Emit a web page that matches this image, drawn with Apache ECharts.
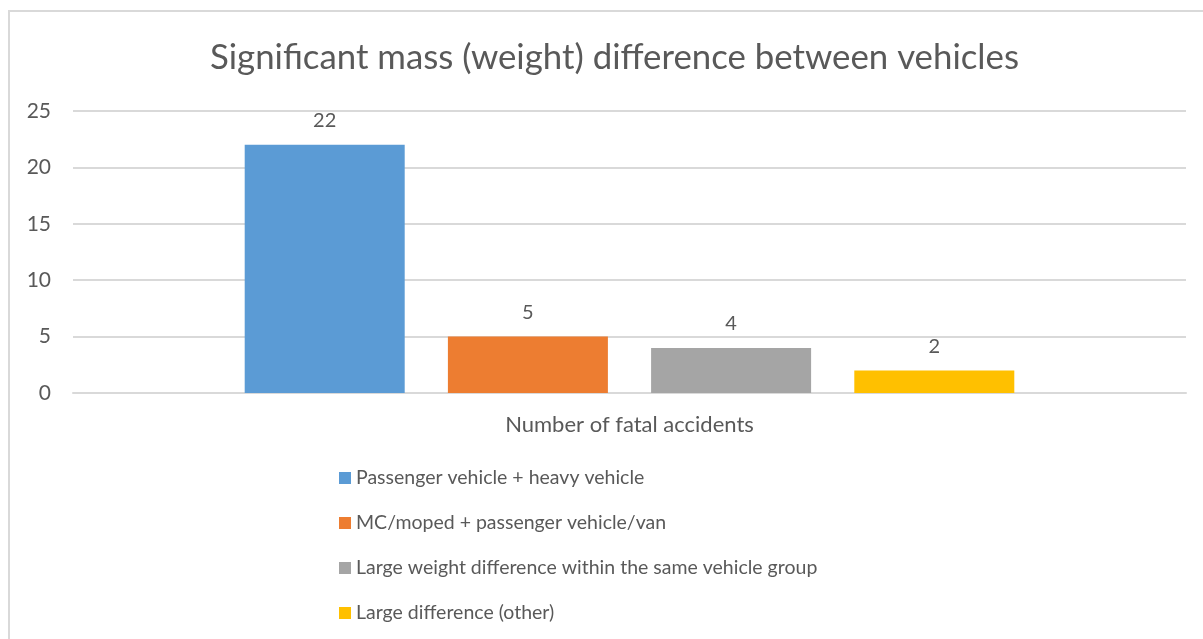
<!DOCTYPE html>
<html>
<head>
<meta charset="utf-8">
<script src="https://cdn.jsdelivr.net/npm/echarts@6/dist/echarts.min.js"></script>
<style>
  html, body { margin: 0; padding: 0; background: #fff; }
  #frame { position: absolute; left: 8px; top: 10px; width: 1200px; height: 640px; border-left: 2px solid #d9d9d9; border-top: 2px solid #d9d9d9; box-sizing: border-box; }
  #chart { position: absolute; left: 0; top: 0; width: 1203px; height: 639px; }
</style>
</head>
<body>
<div id="frame"></div>
<div id="chart"></div>
<script>
// 類別與數據
const categories = ['Number of fatal accidents']
const seriesNames = [
  'Passenger vehicle + heavy vehicle',
  'MC/moped + passenger vehicle/van',
  'Large weight difference within the same vehicle group',
  'Large difference (other)'
]
const seriesValues = [[22], [5], [4], [2]]
const seriesColors = ['#5B9BD5', '#ED7D31', '#A5A5A5', '#FFC000']
const yTicks = [0, 5, 10, 15, 20, 25]

const FONT = 'Lato'
const TEXT = '#595959'

const chart = echarts.init(document.getElementById('chart'))

const series = seriesNames.map((name, i) => ({
  name,
  type: 'bar',
  data: seriesValues[i],
  barWidth: 160,
  barGap: '27%',
  itemStyle: { color: seriesColors[i] },
  label: {
    show: true,
    position: 'top',
    distance: 14,
    color: TEXT,
    fontFamily: FONT,
    fontSize: 20
  }
}))

chart.setOption({
  animation: false,
  title: {
    text: 'Significant mass (weight) difference between vehicles',
    left: 205,
    top: 35,
    textStyle: { color: TEXT, fontFamily: FONT, fontSize: 34.8, fontWeight: 'normal' }
  },
  legend: {
    orient: 'vertical',
    left: 334,
    top: 463,
    itemWidth: 12,
    itemHeight: 12,
    itemGap: 25,
    icon: 'rect',
    data: seriesNames,
    textStyle: { color: TEXT, fontFamily: FONT, fontSize: 19.5, lineHeight: 20 }
  },
  grid: { left: 73, right: 17, top: 111, height: 282, containLabel: false },
  xAxis: {
    type: 'category',
    data: categories,
    axisLine: { lineStyle: { color: '#d9d9d9', width: 2 } },
    axisTick: { show: false },
    axisLabel: { color: TEXT, fontFamily: FONT, fontSize: 22, margin: 21 }
  },
  yAxis: {
    type: 'value',
    min: 0,
    max: 25,
    interval: 5,
    axisLine: { show: false },
    axisTick: { show: false },
    splitLine: { lineStyle: { color: '#d9d9d9', width: 2 } },
    axisLabel: {
      color: TEXT, fontFamily: FONT, fontSize: 21, margin: 22,
      formatter: v => yTicks.includes(v) ? String(v) : ''
    }
  },
  series
})
</script>
</body>
</html>
